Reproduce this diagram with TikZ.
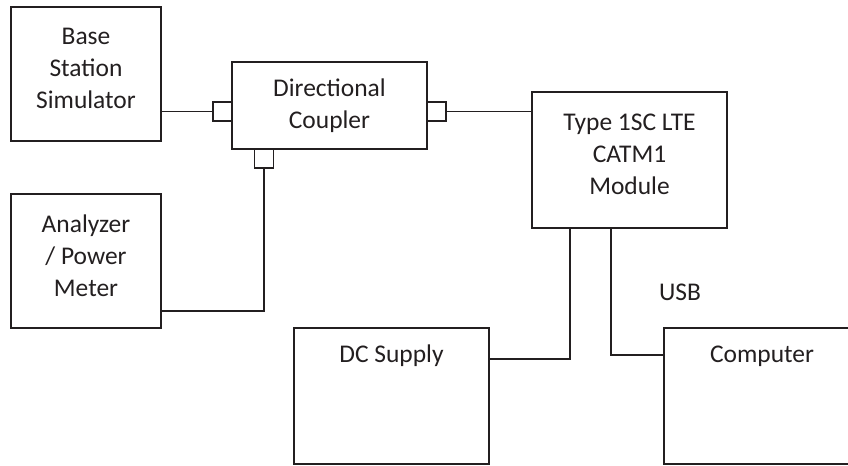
\documentclass[tikz,border=0pt]{standalone}
\usepackage{fontspec}
\setmainfont{Carlito}
\usetikzlibrary{positioning}
\definecolor{setupLine}{HTML}{231F20}
\definecolor{setupText}{HTML}{231F20}

\begin{document}
\begin{tikzpicture}[x=0.02cm, y=-0.02cm, line width=1.1pt, color=setupLine,
  every node/.style={font=\fontsize{14.5}{18.2}\selectfont, text=setupText},
  unit/.style={draw, align=center, inner sep=0pt},
  lifted/.style={text depth=0.22cm},
  port/.style={draw, minimum size=0.38cm, inner sep=0pt}]
  \clip (0,0) rectangle (848,466);

  \node[unit, lifted, minimum width=3cm, minimum height=2.68cm] (bss) at (86,74) {Base\\Station\\Simulator};
  \node[unit, lifted, minimum width=3cm, minimum height=2.68cm] (ana) at (86,261) {Analyzer\\/ Power\\Meter};
  \node[unit, minimum width=3.9cm, minimum height=1.74cm] (dcp) at (329.5,105.5) {Directional\\Coupler};
  \node[unit, lifted, minimum width=3.9cm, minimum height=2.72cm] (mod) at (629.5,160) {Type 1SC LTE\\CATM1\\Module};
  \node[unit, minimum width=3.9cm, minimum height=2.72cm,
        label={[anchor=center, yshift=-0.58cm]north:DC Supply}] (dc) at (391.5,396) {};
  \node[unit, minimum width=3.92cm, minimum height=2.72cm,
        label={[anchor=center, yshift=-0.58cm]north:Computer}] (pc) at (762,396) {};

  \node[port] (pL) at (222.5,111.5) {};
  \node[port] (pR) at (436.5,111.5) {};
  \node[port] (pB) at (264,158.5) {};

  \node (usb) at (680,292) {USB};

  \draw (pL.west) -- (pL.west -| bss.east);
  \draw (pR.east) -- (pR.east -| mod.west);
  \draw (pB.south) |- ([yshift=0.36cm]ana.south east);
  \draw ([xshift=0.78cm]mod.south west) |- ([yshift=-0.64cm]dc.north east);
  \draw ([xshift=1.6cm]mod.south west) |- ([yshift=-0.56cm]pc.north west);
\end{tikzpicture}
\end{document}
